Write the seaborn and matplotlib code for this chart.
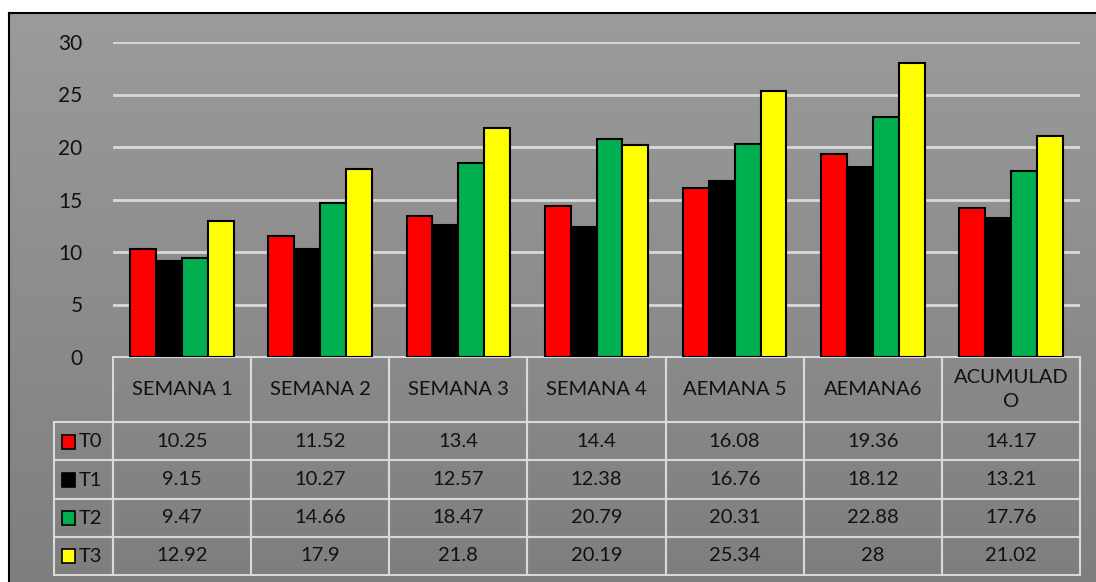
import numpy as np
import pandas as pd
import seaborn as sns
import matplotlib.pyplot as plt
from matplotlib.colors import LinearSegmentedColormap
from matplotlib.patches import Rectangle

# datos
semanas = ["SEMANA 1", "SEMANA 2", "SEMANA 3", "SEMANA 4", "AEMANA 5", "AEMANA6", "ACUMULADO"]
encabezados = ["SEMANA 1", "SEMANA 2", "SEMANA 3", "SEMANA 4", "AEMANA 5", "AEMANA6", "ACUMULAD\nO"]
tratamientos = ["T0", "T1", "T2", "T3"]
t0 = [10.25, 11.52, 13.4, 14.4, 16.08, 19.36, 14.17]
t1 = [9.15, 10.27, 12.57, 12.38, 16.76, 18.12, 13.21]
t2 = [9.47, 14.66, 18.47, 20.79, 20.31, 22.88, 17.76]
t3 = [12.92, 17.9, 21.8, 20.19, 25.34, 28, 21.02]
colores = ["#FF0000", "#000000", "#00B050", "#FFFF00"]

series = [t0, t1, t2, t3]
df = pd.DataFrame({
    "semana": semanas * 4,
    "trat": [t for t in tratamientos for _ in semanas],
    "valor": t0 + t1 + t2 + t3,
})

sns.set_style("white")
plt.rcParams["font.family"] = ["Lato", "DejaVu Sans"]

W, H = 1096, 582
fig = plt.figure(figsize=(W / 100, H / 100), dpi=100)

# fondo con degradado y marco
bg = fig.add_axes([9 / W, -0.01, 1.0, 1 - 13 / H + 0.01])
cmap = LinearSegmentedColormap.from_list("gris", ["#9b9b9b", "#7e7e7e"])
bg.imshow(np.linspace(0, 1, 256).reshape(-1, 1), aspect="auto", cmap=cmap,
          extent=[0, 1, 0, 1], origin="upper")
bg.set_xticks([])
bg.set_yticks([])
for s in bg.spines.values():
    s.set_color("black")
    s.set_linewidth(1.5)

# grafico de barras
ax = fig.add_axes([113 / W, 1 - 357 / H, 967 / W, 315 / H])
ax.patch.set_visible(False)
sns.barplot(data=df, x="semana", y="valor", hue="trat", order=semanas,
            hue_order=tratamientos, palette=dict(zip(tratamientos, colores)),
            width=0.75, edgecolor="black", linewidth=1.5, saturation=1,
            legend=False, ax=ax)
ax.set_ylim(0, 30)
ax.set_xlim(-0.5, len(semanas) - 0.5)
ax.set_yticks(range(0, 31, 5))
ax.yaxis.grid(True, color="#d9d9d9", linewidth=2)
ax.set_axisbelow(True)
ax.set_xlabel("")
ax.set_ylabel("")
ax.set_xticklabels([])
ax.tick_params(axis="both", length=0)
ax.tick_params(axis="y", pad=22, labelsize=15, labelcolor="#111111")
sns.despine(ax=ax, left=True, bottom=True)

# tabla de datos
texto = [[""] + encabezados] + [[""] + [f"{v:g}" for v in s] for s in series]
tab = ax.table(cellText=texto, cellLoc="center",
               bbox=[-59 / 967, -218 / 315, 1 + 59 / 967, 218 / 315])
tab.auto_set_font_size(False)
for (r, c), cell in tab.get_celld().items():
    cell.set_width(59 if c == 0 else 138)
    cell.set_height(65 if r == 0 else 38)
    cell.set_edgecolor("#d9d9d9")
    cell.set_linewidth(1.5)
    cell.set_facecolor("none")
    cell.get_text().set_fontsize(14.5)
    cell.get_text().set_color("#111111")
    cell.get_text().set_linespacing(1.5)
    if r == 0 and c == 0:
        cell.visible_edges = "open"

# leyenda dentro de la tabla
filas_y = [441.5, 480, 518, 556]
for nombre, color, yy in zip(tratamientos, colores, filas_y):
    ya = (357 - yy) / 315
    ax.add_patch(Rectangle(((62 - 113) / 967, ya - 7 / 315), 13 / 967, 14 / 315,
                           transform=ax.transAxes, facecolor=color,
                           edgecolor="black", linewidth=1.2, clip_on=False))
    ax.text((79 - 113) / 967, ya, nombre, transform=ax.transAxes,
            ha="left", va="center", fontsize=14.5, color="#111111")

fig.savefig("out.png", dpi=100)
